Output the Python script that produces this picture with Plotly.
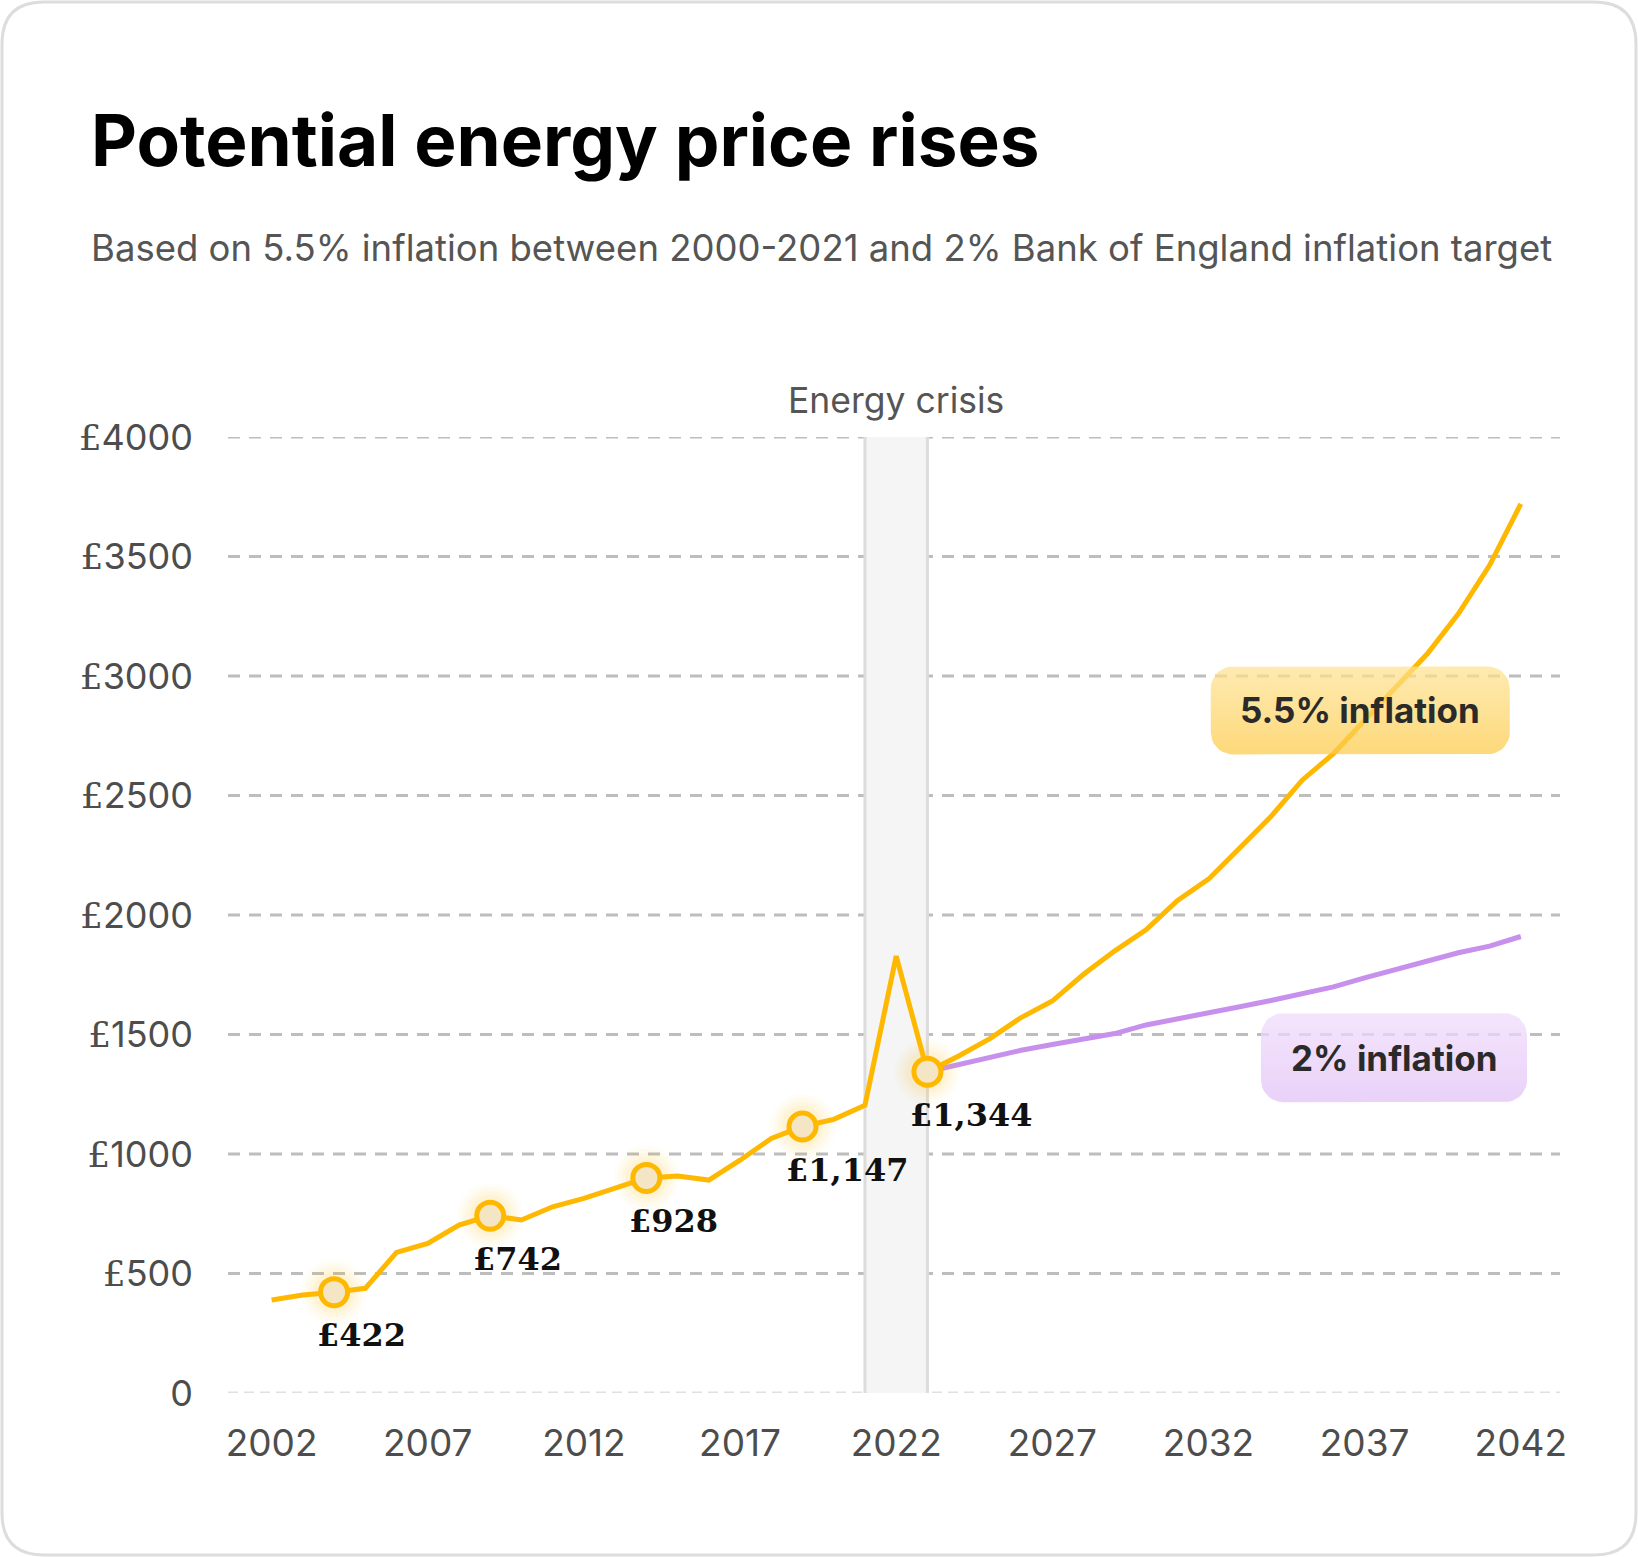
import numpy as np
import plotly.graph_objects as go

# ---------------- data ----------------
years = list(range(2002, 2043))
price_55 = [389, 410, 422, 438, 588, 626, 703, 742, 724, 779,
            814, 856, 900, 908, 891, 974, 1065, 1115, 1145, 1204,
            1828, 1344, 1410, 1483, 1571, 1640, 1752, 1850, 1938, 2060,
            2150, 2280, 2412, 2564, 2675, 2815, 2955, 3092, 3260, 3463,
            3720]
years_2 = list(range(2023, 2043))
price_2 = [1344, 1375, 1405, 1434, 1458, 1481, 1504, 1540, 1564, 1591,
           1616, 1642, 1669, 1699, 1737, 1772, 1807, 1842, 1870, 1910]
marker_years = [2004, 2009, 2014, 2019, 2023]
marker_labels = ["£422", "£742", "£928", "£1,147", "£1,344"]
crisis_years = [2021, 2023]
crisis_center = 2022
x_ticks = [2002, 2007, 2012, 2017, 2022, 2027, 2032, 2037, 2042]
y_ticks = [0, 500, 1000, 1500, 2000, 2500, 3000, 3500, 4000]
y_tick_labels = ["0"] + ['<span style="font-family:DejaVu Serif">£</span>%d' % v for v in y_ticks[1:]]

title = "Potential energy price rises"
subtitle = "Based on 5.5% inflation between 2000-2021 and 2% Bank of England inflation target"
crisis_label = "Energy crisis"
badge_55 = dict(text="5.5% inflation", x=2036.86, y=2856)
badge_2 = dict(text="2% inflation", x=2037.94, y=1403)

# ---------------- layout geometry ----------------
W, H = 1638, 1557
L, R, T, B = 228, 1560, 437, 1393
XR = [2000.604, 2043.255]
YR = [0, 4000]
ppx = (R - L) / (XR[1] - XR[0])   # px per year
ppy = (B - T) / (YR[1] - YR[0])   # px per unit

def px_to_paper(px, py):
    return (px - L) / (R - L), (B - py) / (B - T)

YELLOW = "#FFB800"
PURPLE = "#C690EC"
SANS = "Inter"
TICK_COLOR = "#4d4d4d"

fig = go.Figure()

# 2% line
fig.add_trace(go.Scatter(x=years_2, y=price_2, mode="lines",
                         line=dict(color=PURPLE, width=5), hoverinfo="skip"))
# 5.5% line
fig.add_trace(go.Scatter(x=years, y=price_55, mode="lines",
                         line=dict(color=YELLOW, width=5), hoverinfo="skip"))

marker_vals = [price_55[years.index(y)] for y in marker_years]
# glow
for s, a in [(66, 0.035), (58, 0.045), (50, 0.055), (42, 0.07)]:
    fig.add_trace(go.Scatter(x=marker_years, y=marker_vals, mode="markers",
                             marker=dict(size=s, color="rgba(255,196,40,%g)" % a, line=dict(width=0)),
                             hoverinfo="skip"))
fig.add_trace(go.Scatter(x=marker_years, y=marker_vals, mode="markers",
                         marker=dict(size=27, color="#F4E6C4", line=dict(color=YELLOW, width=5)),
                         hoverinfo="skip"))

# badges (rounded rectangles with vertical gradient)
def rounded_rect(cx, cy, w, h, r, n=10):
    hw, hh = w / 2, h / 2
    pts = []
    corners = [(hw - r, hh - r, 0), (-(hw - r), hh - r, 90),
               (-(hw - r), -(hh - r), 180), (hw - r, -(hh - r), 270)]
    for ccx, ccy, a0 in corners:
        for t in np.linspace(np.radians(a0), np.radians(a0 + 90), n):
            pts.append((ccx + r * np.cos(t), ccy + r * np.sin(t)))
    pts.append(pts[0])
    xs = [cx + p[0] / ppx for p in pts]
    ys = [cy + p[1] / ppy for p in pts]
    return xs, ys

for bd, w, h, top, bot in [
    (badge_55, 299, 88, "rgba(254,226,146,0.72)", "rgba(252,202,71,0.72)"),
    (badge_2, 266, 89, "rgba(240,220,251,0.75)", "rgba(226,194,246,0.75)"),
]:
    xs, ys = rounded_rect(bd["x"], bd["y"], w, h, 22)
    fig.add_trace(go.Scatter(x=xs, y=ys, mode="lines", fill="toself",
                             line=dict(width=0, color="rgba(0,0,0,0)"),
                             fillgradient=dict(type="vertical",
                                               colorscale=[[0, bot], [1, top]]),
                             hoverinfo="skip"))
    fig.add_annotation(x=bd["x"], y=bd["y"], xref="x", yref="y", text=bd["text"],
                       showarrow=False, xanchor="center", yanchor="middle",
                       font=dict(family=SANS, size=35, color="#2a2a2a", weight=700))

# marker labels
for yr, v, lab in zip(marker_years, marker_vals, marker_labels):
    fig.add_annotation(x=yr, y=v, xref="x", yref="y", text=lab, showarrow=False,
                       xanchor="left", yanchor="middle", xshift=-19, yshift=-43,
                       font=dict(family="DejaVu Serif", size=32, color="#111111", weight=700))

shapes = []
# crisis band
shapes.append(dict(type="rect", xref="x", yref="y", x0=crisis_years[0], x1=crisis_years[1],
                   y0=YR[0], y1=YR[1], fillcolor="#f5f5f5", line=dict(width=0), layer="below"))
for cx in crisis_years:
    shapes.append(dict(type="line", xref="x", yref="y", x0=cx, x1=cx, y0=YR[0], y1=YR[1],
                       line=dict(color="#dcdcdc", width=3), layer="below"))
# gridlines
for v in y_ticks:
    if v == 0:
        ln = dict(color="#e0e0e0", width=3, dash="10px,6px")
    else:
        ln = dict(color="#bdbdbd", width=3, dash="12px,9px")
    shapes.append(dict(type="line", xref="paper", yref="y", x0=0, x1=1, y0=v, y1=v,
                       line=ln, layer="below"))

# card border
x0, y0, x1, y1, r = 2, 2, 1636, 1555, 42
seq = [("M", [(x0 + r, y0)]), ("L", [(x1 - r, y0)]), ("Q", [(x1, y0), (x1, y0 + r)]),
       ("L", [(x1, y1 - r)]), ("Q", [(x1, y1), (x1 - r, y1)]), ("L", [(x0 + r, y1)]),
       ("Q", [(x0, y1), (x0, y1 - r)]), ("L", [(x0, y0 + r)]), ("Q", [(x0, y0), (x0 + r, y0)])]
path = ""
for cmd, pts in seq:
    path += cmd + " " + " ".join("%.6f,%.6f" % px_to_paper(*p) for p in pts) + " "
path += "Z"
shapes.append(dict(type="path", xref="paper", yref="paper", path=path,
                   line=dict(color="#dddddd", width=3), fillcolor="rgba(0,0,0,0)", layer="above"))

# title / subtitle / crisis label
tx, ty = px_to_paper(89, 140)
fig.add_annotation(x=tx, y=ty, xref="paper", yref="paper", text=title, showarrow=False,
                   xanchor="left", yanchor="middle",
                   font=dict(family=SANS, size=71, color="#000000", weight=700))
sx, sy = px_to_paper(89, 248)
fig.add_annotation(x=sx, y=sy, xref="paper", yref="paper", text=subtitle, showarrow=False,
                   xanchor="left", yanchor="middle",
                   font=dict(family=SANS, size=36.5, color="#555555"))
_, cy = px_to_paper(0, 400)
fig.add_annotation(x=crisis_center, y=cy, xref="x", yref="paper", text=crisis_label,
                   showarrow=False, xanchor="center", yanchor="middle",
                   font=dict(family=SANS, size=35.5, color="#555555"))

fig.update_layout(
    width=W, height=H,
    margin=dict(l=L, r=W - R, t=T, b=H - B, pad=0),
    paper_bgcolor="white", plot_bgcolor="white",
    showlegend=False,
    shapes=shapes,
    xaxis=dict(range=XR, tickvals=x_ticks, showgrid=False, zeroline=False, showline=False,
               ticks="", ticklabelstandoff=25,
               tickfont=dict(family=SANS, size=37, color=TICK_COLOR)),
    yaxis=dict(range=YR, tickvals=y_ticks, ticktext=y_tick_labels, showgrid=False,
               zeroline=False, showline=False, ticks="", ticklabelstandoff=34,
               tickfont=dict(family=SANS, size=36, color=TICK_COLOR)),
)

fig.write_html("out.html", config={"displayModeBar": False},
               post_script="document.body.style.margin='0';document.body.style.overflow='hidden';")
